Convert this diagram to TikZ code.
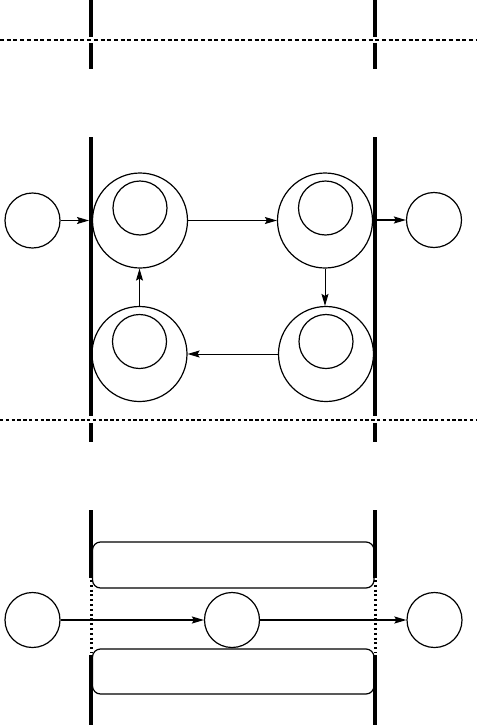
\documentclass[tikz,border=0pt]{standalone}
\usetikzlibrary{arrows.meta}
\begin{document}
\begin{tikzpicture}[x=1pt,y=-1pt,
  bar/.style={line width=3.6pt},
  dotbar/.style={line width=3pt,dash pattern=on 2pt off 2.8pt},
  topdash/.style={line width=1.1pt,dash pattern=on 4pt off 2.7pt},
  botdash/.style={line width=1.6pt,dash pattern=on 3.4pt off 2.4pt},
  circ/.style={circle,draw,line width=1.2pt,inner sep=0pt},
  smallc/.style={circ,minimum size=55pt},
  bigc/.style={circ,minimum size=95pt},
  innerc/.style={circ,minimum size=54pt},
  arr/.style={line width=1pt,-{Stealth[length=12pt,width=7pt,inset=2pt]}},
  thickarr/.style={line width=1.5pt,-{Stealth[length=12pt,width=7pt,inset=2pt]}},
  rrect/.style={draw,line width=1.2pt,rounded corners=8pt}]
\useasboundingbox (0,0) rectangle (477,726);
\fill[white] (0,0) rectangle (477,726);

% ---------- top section ----------
\draw[topdash] (0,40) -- (477,40);
\draw[bar] (91,0) -- (91,37) (91,43) -- (91,69);
\draw[bar] (375,0) -- (375,37) (375,43) -- (375,69);

% ---------- middle section ----------
\draw[botdash] (0,420) -- (477,420);
\draw[bar] (91,137) -- (91,416) (91,423) -- (91,442);
\draw[bar] (375,137) -- (375,416) (375,423) -- (375,442);

\node[smallc] (in1) at (32.5,220.5) {};
\node[bigc] (A) at (140,220.5) {};
\node[innerc] (Ai) at (140,208) {};
\node[bigc] (B) at (325,220.5) {};
\node[innerc] (Bi) at (325.5,208) {};
\node[bigc] (C) at (326,354) {};
\node[innerc] (Ci) at (326,341.5) {};
\node[bigc] (D) at (139.5,354) {};
\node[innerc] (Di) at (139.5,341.5) {};
\node[smallc] (out1) at (434,220) {};
\coordinate (barL1) at (89,220.5);
\coordinate (barR1) at (377,220);

\draw[arr] (in1) -- (barL1);
\draw[arr] (A) -- (B);
\draw[arr] (B.south) -- (B.south |- C.north);
\draw[arr] (C) -- (D);
\draw[arr] (D.north) -- (D.north |- A.south);
\draw[thickarr] (barR1) -- (out1);

% ---------- bottom section ----------
\draw[rrect] (92.5,542) rectangle (374,588);
\draw[rrect] (92.5,649) rectangle (374,694);
\draw[bar] (91,510) -- (91,578) (91,655) -- (91,725);
\draw[bar] (375,510) -- (375,578) (375,655) -- (375,725);
\draw[dotbar] (91,580) -- (91,653);
\draw[dotbar] (375,580) -- (375,653);

\node[smallc] (in2) at (32.5,620) {};
\node[smallc] (mid2) at (232,620) {};
\node[smallc] (out2) at (434.5,620) {};
\draw[thickarr] (in2) -- (mid2);
\draw[thickarr] (mid2) -- (out2);
\end{tikzpicture}
\end{document}
